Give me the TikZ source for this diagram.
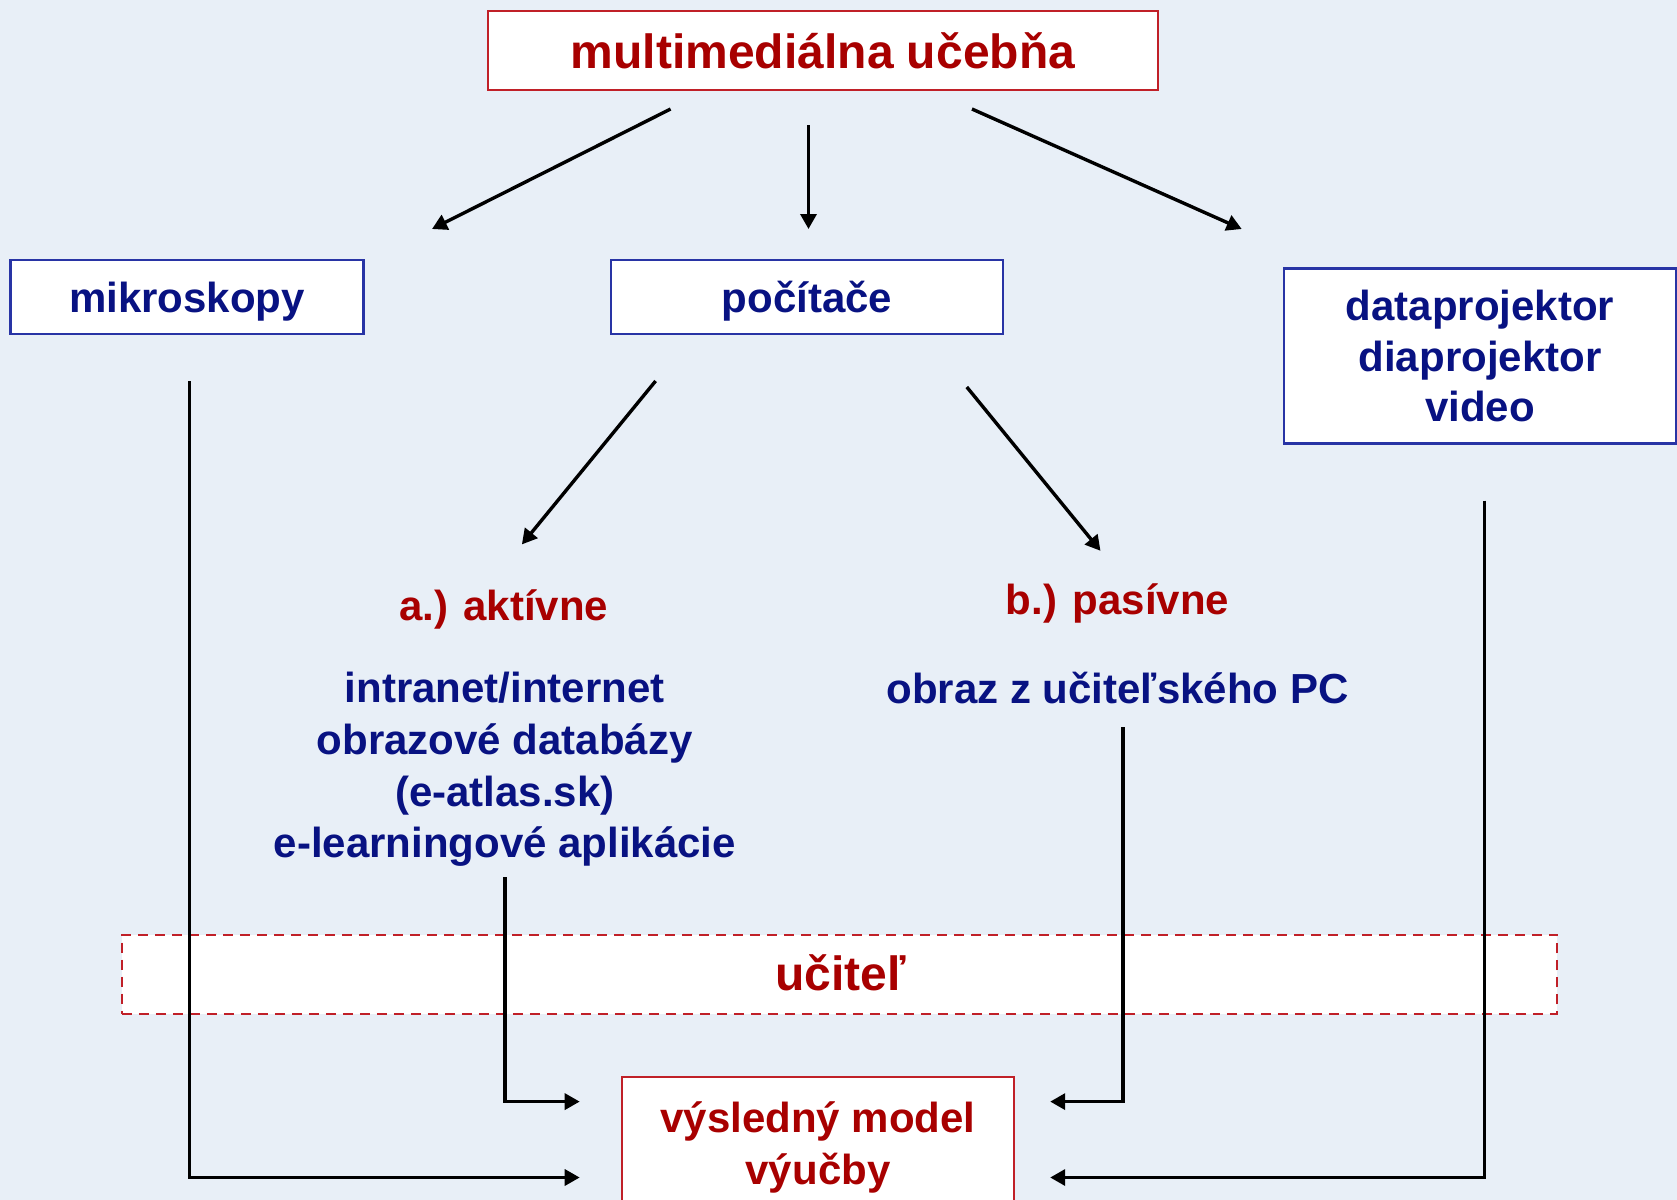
\documentclass[tikz,border=0pt]{standalone}
\usepackage{fontspec}
\setmainfont{Liberation Sans}
\usetikzlibrary{arrows.meta}
\definecolor{bg}{RGB}{232,239,247}
\definecolor{dred}{RGB}{168,0,0}
\definecolor{dblue}{RGB}{8,18,130}
\definecolor{bblue}{RGB}{40,52,165}
\definecolor{bred}{RGB}{192,32,40}
\begin{document}
\begin{tikzpicture}[x=0.5pt,y=-0.5pt,
  box/.style={draw, fill=white, inner sep=0pt, align=center, font=\bfseries\fontsize{21}{25.6}\selectfont},
  bluebox/.style={box, draw=bblue, line width=1.2pt, text=dblue},
  redbox/.style={box, draw=bred, line width=1pt, text=dred},
  redlbl/.style={inner sep=0pt, text=dred, font=\bfseries\fontsize{21}{25.6}\selectfont},
  bluelbl/.style={inner sep=0pt, align=center, text=dblue, font=\bfseries\fontsize{21}{25.85}\selectfont},
  conn/.style={line width=1.7pt, -{Triangle[length=7.5pt,width=8pt]}}
]
\clip (0,0) rectangle (1677,1200);
\fill[bg] (0,0) rectangle (1677,1200);

% boxes
\node[redbox, minimum width=335pt, minimum height=39.5pt,
      font=\bfseries\fontsize{24}{28}\selectfont] (title) at (823,50.5) {multimediálna učebňa};
\node[bluebox, minimum width=176.5pt, minimum height=37pt, text depth=0pt] (mikro) at (187,297) {mikroskopy};
\node[bluebox, minimum width=196pt, minimum height=37pt, text depth=0pt] (pocit) at (807,297) {počítače};
\node[bluebox, minimum width=196pt, minimum height=87.5pt,
      font=\bfseries\fontsize{21}{25.4}\selectfont] (data) at (1480,356) {dataprojektor\\diaprojektor\\video};

% teacher band
\node[draw=bred, dash pattern=on 5pt off 3.5pt, line width=1pt, fill=white, inner sep=0pt,
      minimum width=717.7pt, minimum height=39.6pt] (ucbox) at (839.5,974.3) {};
\node[redlbl, font=\bfseries\fontsize{24}{28}\selectfont] (ucitel) at (840.6,973) {učiteľ};

% result
\node[redbox, minimum width=196pt, minimum height=70.5pt,
      font=\bfseries\fontsize{21}{25.7}\selectfont] (result) at (818,1147.5) {výsledný model\\výučby};

% labels
\node[redlbl] (akt) at (503.7,609.8) {a.) aktívne};
\node[bluelbl] (aktlist) at (504.8,769.5) {intranet/internet\\obrazové databázy\\(e-atlas.sk)\\e-learningové aplikácie};
\node[redlbl] (pas) at (1117.6,603) {b.) pasívne};
\node[bluelbl] (paslist) at (1117.6,687.7) {obraz z učiteľského PC};

% connector end points
\coordinate (t1s) at (670.6,109);   \coordinate (t1e) at (432,229);
\coordinate (t2s) at (808.5,125);   \coordinate (t2e) at (808.5,229);
\coordinate (t3s) at (972,109);     \coordinate (t3e) at (1241.7,229);
\coordinate (p1s) at (655.6,381);   \coordinate (p1e) at (521.9,544.4);
\coordinate (p2s) at (966.8,387);   \coordinate (p2e) at (1100.5,550.8);
\coordinate (mS) at (189.3,381);    \coordinate (mE) at (579.7,1177.5);
\coordinate (aS) at (504.8,877);    \coordinate (aE) at (579.7,1101.6);
\coordinate (bS) at (1123,727);     \coordinate (bE) at (1050.2,1101.6);
\coordinate (dS) at (1484.5,500.5); \coordinate (dE) at (1050.2,1177.5);

\draw[conn] (t1s) -- (t1e);
\draw[conn] (t2s) -- (t2e);
\draw[conn] (t3s) -- (t3e);
\draw[conn] (p1s) -- (p1e);
\draw[conn] (p2s) -- (p2e);
\draw[conn] (mS) |- (mE);
\draw[conn] (aS) |- (aE);
\draw[conn] (bS) |- (bE);
\draw[conn] (dS) |- (dE);
\end{tikzpicture}
\end{document}
